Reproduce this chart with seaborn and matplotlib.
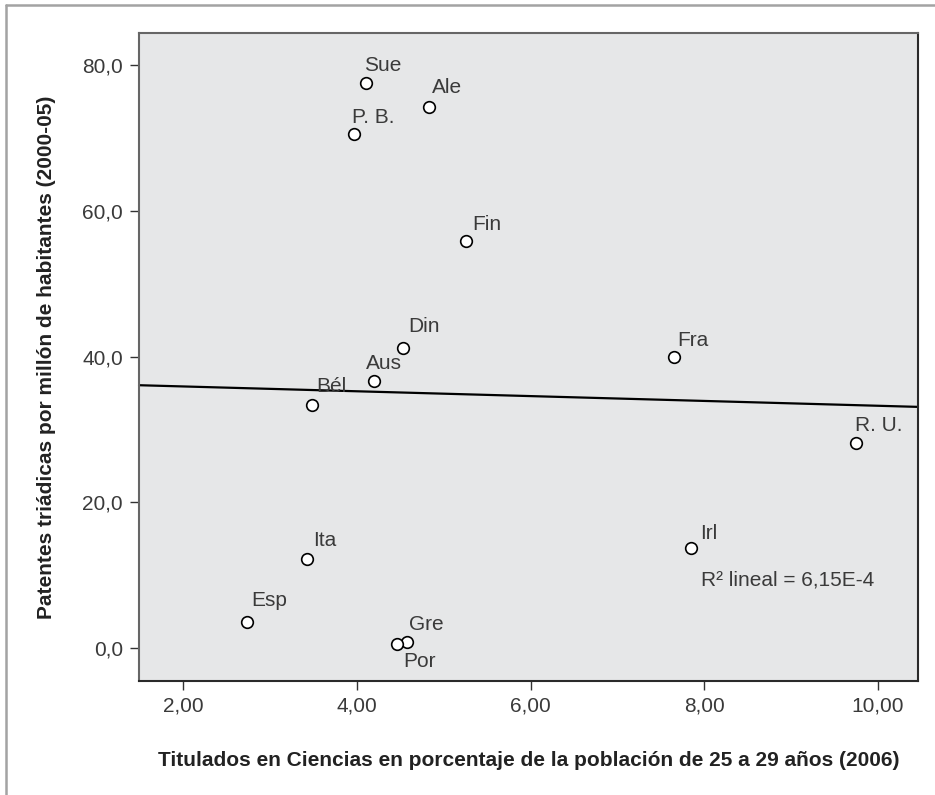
import pandas as pd
import matplotlib
matplotlib.use("Agg")
import matplotlib.pyplot as plt
import seaborn as sns
from matplotlib.lines import Line2D

# data
paises = ["Sue", "Ale", "P. B.", "Fin", "Din", "Aus", "Bél", "Ita", "Esp",
          "Gre", "Por", "Fra", "R. U.", "Irl"]
titulados = [4.10, 4.83, 3.97, 5.26, 4.53, 4.20, 3.48, 3.42, 2.73,
             4.58, 4.46, 7.65, 9.75, 7.85]
patentes = [77.5, 74.3, 70.5, 55.9, 41.2, 36.7, 33.3, 12.2, 3.6,
            0.8, 0.55, 40.0, 28.2, 13.8]
x_ticks = [2, 4, 6, 8, 10]
y_ticks = [0, 20, 40, 60, 80]
r2_text = "R² lineal = 6,15E-4"

# label offsets in pixels (dx, dy) relative to each point
offsets = {"Sue": (-2, 12), "Ale": (3, 14), "P. B.": (-2, 11), "Fin": (6, 11),
           "Din": (5, 16), "Aus": (-8, 12), "Bél": (4, 13), "Ita": (6, 13),
           "Esp": (5, 16), "Gre": (2, 12), "Por": (6, -23), "Fra": (3, 11),
           "R. U.": (-1, 12), "Irl": (9, 9)}

df = pd.DataFrame({"pais": paises, "titulados": titulados, "patentes": patentes})

sns.set_style("white")
plt.rcParams["font.family"] = ["Liberation Sans", "DejaVu Sans"]
txt_color = "#3a3a3a"

fig = plt.figure(figsize=(9.35, 7.95), dpi=100)
ax = fig.add_axes([0.1487, 0.1434, 0.8331, 0.8151])
ax.set_facecolor("#e6e7e8")
ax.set_xlim(1.49, 10.46)
ax.set_ylim(-4.5, 84.4)

# regression line over the full x range
sns.regplot(data=df, x="titulados", y="patentes", ax=ax, ci=None, truncate=False,
            scatter=False, line_kws={"color": "black", "lw": 1.6, "clip_on": False})
sns.scatterplot(data=df, x="titulados", y="patentes", ax=ax, s=70,
                facecolor="white", edgecolor="black", linewidth=1.2, zorder=3)

for p, xv, yv in zip(paises, titulados, patentes):
    dx, dy = offsets[p]
    ax.annotate(p, (xv, yv), xytext=(dx, dy), textcoords="offset pixels",
                ha="left", va="baseline", fontsize=15, color=txt_color)

ax.text(7.956, 8.55, r2_text, ha="left", va="baseline", fontsize=15, color=txt_color)

ax.set_xticks(x_ticks)
ax.set_xticklabels([f"{v:.2f}".replace(".", ",") for v in x_ticks])
ax.set_yticks(y_ticks)
ax.set_yticklabels([f"{v:.1f}".replace(".", ",") for v in y_ticks])
ax.tick_params(axis="both", direction="out", length=6.5, width=1, color="#333333",
               labelsize=15, labelcolor=txt_color, pad=5, bottom=True, left=True)

for side in ["top", "left"]:
    ax.spines[side].set_color("#666666")
    ax.spines[side].set_linewidth(1.5)
for side in ["bottom", "right"]:
    ax.spines[side].set_color("#2a2a2a")
    ax.spines[side].set_linewidth(1.5)

ax.set_xlabel("Titulados en Ciencias en porcentaje de la población de 25 a 29 años (2006)",
              fontsize=15, fontweight="bold", color="#222222", labelpad=25)
ax.set_ylabel("Patentes triádicas por millón de habitantes (2000-05)",
              fontsize=15, fontweight="bold", color="#222222", labelpad=19)

# grey frame on the top and left of the figure
fig.add_artist(Line2D([6 / 935, 1], [1 - 5 / 795, 1 - 5 / 795],
                      transform=fig.transFigure, color="#a3a3a3", lw=1.8))
fig.add_artist(Line2D([6 / 935, 6 / 935], [0, 1 - 5 / 795],
                      transform=fig.transFigure, color="#a3a3a3", lw=1.8))

fig.savefig("out.png", dpi=100)
